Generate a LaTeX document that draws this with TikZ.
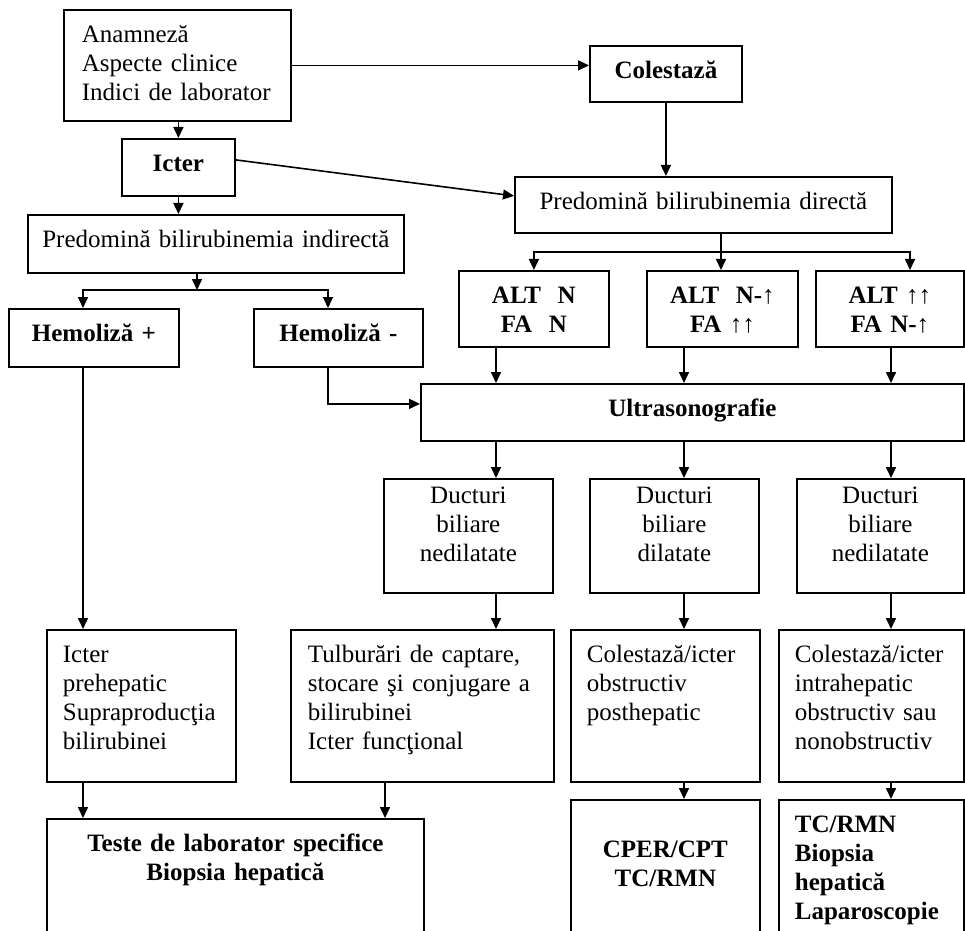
\documentclass[tikz,border=0pt]{standalone}
\usepackage{fontspec}
\setmainfont{Liberation Serif}
\usepackage{tikz}
\usetikzlibrary{arrows.meta, positioning, calc}
\newcommand\boxfont{\fontsize{12.5}{14.5}\selectfont}
\tikzset{
  block/.style = {
    rectangle, draw=black, line width=0.9pt,
    text width=#1, inner xsep=0pt, inner ysep=0pt,
    text height=16.5pt, align=center, font=\boxfont,
    anchor=north west
  },
  block/.default = 80pt,
  bblock/.style = {block=#1, font=\boxfont\bfseries},
  bblock/.default = 80pt,
  lblock/.style = {block=#1, inner xsep=8pt, align=left},
  lblock/.default = 78pt,
  arr/.style = {-{Triangle[length=5.5pt, width=5pt]}, line width=0.8pt},
}

\begin{document}
\begin{tikzpicture}[x=0.5pt, y=-0.5pt]
  \useasboundingbox (0,0) rectangle (965,931);
  \clip (0,0) rectangle (965,931);

  %% left column
  \node[lblock=95.5pt, inner xsep=9pt, text depth=39pt] (anam) at (63,9)
    {Anamneză\\Aspecte clinice\\Indici de laborator};
  \node[bblock=56.5pt, text depth=12pt]   (icter)  at (121,138) {Icter};
  \node[block=188pt, text depth=12.5pt]   (indir)  at (27,214)
    {Predomină bilirubinemia indirectă};
  \node[bblock=85pt, text depth=12.5pt]   (hplus)  at (8,308)   {Hemoliză +};
  \node[bblock=84.5pt, text depth=12.5pt] (hminus) at (253,308) {Hemoliză -};

  %% right column
  \node[bblock=76pt, text depth=11.5pt]   (cole)   at (589,45)  {Colestază};
  \node[block=188.5pt, text depth=11.5pt] (direct) at (514,176)
    {Predomină bilirubinemia directă};
  \node[bblock=75pt, text depth=21.5pt]   (altA) at (458,270) {ALT\ \ N\\FA\ \ N};
  \node[bblock=75.5pt, text depth=21.5pt] (altB) at (646,270) {ALT\ \ N-↑\\FA ↑↑};
  \node[bblock=74pt, text depth=21.5pt]   (altC) at (815,270) {ALT ↑↑\\FA N-↑};
  \node[bblock=271.5pt, text depth=12pt]  (ultra) at (420,383) {Ultrasonografie};
  \node[block=84.5pt, text height=12.5pt, text depth=44.5pt] (ductA) at (383,478)
    {Ducturi\\biliare\\nedilatate};
  \node[block=84.5pt, text height=12.5pt, text depth=44.5pt] (ductB) at (589,478)
    {Ducturi\\biliare\\dilatate};
  \node[block=83.5pt, text height=12.5pt, text depth=44.5pt] (ductC) at (796,478)
    {Ducturi\\biliare\\nedilatate};

  %% bottom rows
  \node[lblock=78.5pt, text depth=59.5pt] (prehep) at (46,629)
    {Icter\\prehepatic\\Supraproducţia\\bilirubinei};
  \node[lblock=114.5pt, inner xsep=8.5pt, text depth=59.5pt] (tulb) at (290,629)
    {Tulburări de captare,\\stocare şi conjugare a\\bilirubinei\\Icter funcţional};
  \node[lblock=78.5pt, text depth=59.5pt] (posthep) at (570,629)
    {Colestază/icter\\obstructiv\\posthepatic};
  \node[lblock=76.5pt, text depth=59.5pt] (intrahep) at (778,629)
    {Colestază/icter\\intrahepatic\\obstructiv sau\\nonobstructiv};
  \node[bblock=188.5pt, text depth=49.5pt] (teste) at (46,818)
    {Teste de laborator specifice\\Biopsia hepatică};
  \node[bblock=94.5pt, text height=29pt, text depth=46.5pt] (cper) at (570,799)
    {CPER/CPT\\TC/RMN};
  \node[lblock=76.5pt, font=\boxfont\bfseries, text depth=59pt] (tcrmn) at (778,799)
    {TC/RMN\\Biopsia\\hepatică\\Laparoscopie};

  %% arrow columns
  \coordinate (colH) at (83,0);
  \coordinate (colM) at (328,0);
  \coordinate (colT) at (385,0);
  \coordinate (colA) at (496,0);
  \coordinate (colB) at (684,0);
  \coordinate (colC) at (891,0);
  \coordinate (colD) at (910,0);
  \coordinate (splitL) at (197,290);
  \coordinate (splitR) at (721,252);

  %% top arrows
  \draw[arr] (anam.east) -- (anam.east -| cole.west);
  \draw[arr] (anam.south -| icter.north) -- (icter.north);
  \draw[arr] (icter.south) -- (indir.north -| icter.south);
  \draw[arr] ([yshift=3.75pt]icter.east) -- ([yshift=4.5pt]direct.west);
  \draw[arr] (cole.south) -- (direct.north -| cole.south);

  %% indirect branch
  \draw[arr] (indir.south -| splitL) -- (splitL);
  \draw[arr] (splitL) -| (hplus.north -| colH);
  \draw[arr] (splitL) -| (hminus.north -| colM);
  \draw[arr] (hplus.south -| colH) -- (prehep.north -| colH);
  \draw[arr] (hminus.south -| colM) |- ([yshift=4.25pt]ultra.west);

  %% direct branch
  \draw[arr] (direct.south -| splitR) -- (altB.north -| splitR);
  \draw[arr] (splitR) -| (altA.north);
  \draw[arr] (splitR) -| (altC.north -| colD);
  \foreach \c/\a/\b in {colA/altA/ductA, colB/altB/ductB, colC/altC/ductC} {
    \draw[arr] (\a.south -| \c) -- (ultra.north -| \c);
    \draw[arr] (ultra.south -| \c) -- (\b.north -| \c);
  }
  \draw[arr] (ductA.south -| colA) -- (tulb.north -| colA);
  \draw[arr] (ductB.south -| colB) -- (posthep.north -| colB);
  \draw[arr] (ductC.south -| colC) -- (intrahep.north -| colC);

  %% to the last row
  \draw[arr] (prehep.south -| colH) -- (teste.north -| colH);
  \draw[arr] (tulb.south -| colT) -- (teste.north -| colT);
  \draw[arr] (posthep.south -| colB) -- (cper.north -| colB);
  \draw[arr] (intrahep.south -| colC) -- (tcrmn.north -| colC);

\end{tikzpicture}
\end{document}
